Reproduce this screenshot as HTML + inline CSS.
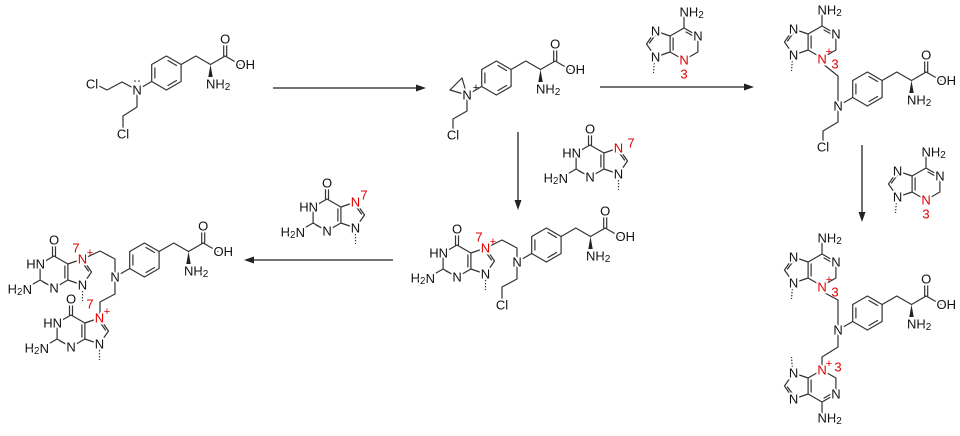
<!DOCTYPE html>
<html><head><meta charset="utf-8"><style>
html,body{margin:0;padding:0;background:#fff;}
svg{display:block}
.b{fill:none;stroke:#333;stroke-width:1.2;stroke-linejoin:round;stroke-linecap:round}
.d{fill:none;stroke:#333;stroke-width:1.2;stroke-dasharray:1.4,1.6}
text{font-family:"Liberation Sans",sans-serif;font-size:13px;fill:#111;dominant-baseline:central;text-anchor:middle;paint-order:stroke;stroke:#fff;stroke-width:4px;stroke-linejoin:round}
text.s{text-anchor:start}
text.e{text-anchor:end}
text.r{fill:#e00000}
text.sm{font-size:11px}
tspan.sub{font-size:10px}
</style></head><body>
<svg width="960" height="436" viewBox="0 0 960 436" xmlns="http://www.w3.org/2000/svg">

<!-- arrows -->
<g stroke="#222" stroke-width="1.3" fill="#222">
<line x1="273" y1="88" x2="418" y2="88"/><polygon points="426,88 416,84.5 416,91.5" stroke="none"/>
<line x1="600" y1="87" x2="746" y2="87"/><polygon points="754,87 744,83.5 744,90.5" stroke="none"/>
<line x1="518" y1="132" x2="518" y2="202"/><polygon points="518,210 514.5,200 521.5,200" stroke="none"/>
<line x1="862" y1="145" x2="862" y2="214"/><polygon points="862,222 858.5,212 865.5,212" stroke="none"/>
<line x1="393" y1="260" x2="252" y2="260"/><polygon points="244,260 254,256.5 254,263.5" stroke="none"/>
</g>

<!-- ============ M1 ============ -->
<path class="b" d="M137,90 L122,82 L107,90 L95,84 M137,90 L137,107 L123,116 L123,128"/>
<g transform="translate(137,90)">
<path class="b" d="M0,0 L14.7,-8.5 M14.7,-8.5 L29.4,0 L44.1,-8.5 L44.1,-25.5 L29.4,-34 L14.7,-25.5 Z M31,-4.5 L39.5,-9.5 M39.5,-24.5 L31,-29.5 M17.9,-22 L17.9,-12 M44.1,-25.5 L58.8,-34 L73.5,-25.5 L88.2,-34 L102.9,-25.5 M86.7,-34 L86.7,-47 M89.7,-34 L89.7,-47"/>
<polygon points="73.5,-25.5 71.3,-13 75.7,-13" fill="#222"/>
<text x="88.2" y="-51">O</text>
<text class="s" x="98.5" y="-25.5">OH</text>
<text class="s" x="69" y="-6">NH<tspan class="sub" dy="3">2</tspan></text>
<text x="0" y="0">N</text>
<circle cx="-2" cy="-9" r="0.8" fill="#222"/><circle cx="2" cy="-9" r="0.8" fill="#222"/>
</g>
<text x="92" y="84">Cl</text>
<text x="123" y="134">Cl</text>

<!-- ============ M2 ============ -->
<path class="b" d="M467,95 L450,90 L462,78 Z M467,95 L467,111 L453,119 L453,130"/>
<g transform="translate(467,95)">
<path class="b" d="M0,0 L14.7,-8.5 M14.7,-8.5 L29.4,0 L44.1,-8.5 L44.1,-25.5 L29.4,-34 L14.7,-25.5 Z M31,-4.5 L39.5,-9.5 M39.5,-24.5 L31,-29.5 M17.9,-22 L17.9,-12 M44.1,-25.5 L58.8,-34 L73.5,-25.5 L88.2,-34 L102.9,-25.5 M86.7,-34 L86.7,-47 M89.7,-34 L89.7,-47"/>
<polygon points="73.5,-25.5 71.3,-13 75.7,-13" fill="#222"/>
<text x="88.2" y="-51">O</text>
<text class="s" x="98.5" y="-25.5">OH</text>
<text class="s" x="69" y="-6">NH<tspan class="sub" dy="3">2</tspan></text>
<text x="0" y="0">N</text>
<text class="sm" x="9" y="-7" style="stroke-width:0">+</text>
</g>
<text x="453" y="135">Cl</text>

<!-- ============ M3 ============ -->
<path class="b" d="M823,64 L838,76 L838,106 M838,106 L838,122 L823,131 L823,142"/>
<g transform="translate(838,106)">
<path class="b" d="M0,0 L14.7,-8.5 M14.7,-8.5 L29.4,0 L44.1,-8.5 L44.1,-25.5 L29.4,-34 L14.7,-25.5 Z M31,-4.5 L39.5,-9.5 M39.5,-24.5 L31,-29.5 M17.9,-22 L17.9,-12 M44.1,-25.5 L58.8,-34 L73.5,-25.5 L88.2,-34 L102.9,-25.5 M86.7,-34 L86.7,-47 M89.7,-34 L89.7,-47"/>
<polygon points="73.5,-25.5 71.3,-13 75.7,-13" fill="#222"/>
<text x="88.2" y="-51">O</text>
<text class="s" x="98.5" y="-25.5">OH</text>
<text class="s" x="69" y="-6">NH<tspan class="sub" dy="3">2</tspan></text>
<text x="0" y="0">N</text>
</g>
<text x="823" y="147">Cl</text>
<g transform="translate(822,42)">
<path class="b" d="M0,-16 L13.9,-8 L13.9,8 L0,16 L-13.9,8 L-13.9,-8 Z M-13.9,-8 L-28.5,-13 L-37.5,0 L-28.5,13 L-13.9,8 M0,-16 L0,-27 M-10.9,-6 L-10.9,6 M2,-12 L11,-7 M-29,-8.5 L-34.5,-1"/>
<path class="d" d="M-29.5,16 L-30.5,29"/>
<text x="13.9" y="-8">N</text><text x="-28.5" y="-13">N</text><text x="-28.5" y="13">N</text>
<text class="s" x="-4.5" y="-32">NH<tspan class="sub" dy="3">2</tspan></text>
<text class="r" x="0" y="17">N</text>
<text class="r sm" x="7" y="10" style="stroke-width:0">+</text>
<text class="r" x="13" y="22" style="stroke-width:0">3</text>
</g>

<!-- ============ reagents ============ -->
<g transform="translate(684,44)">
<path class="b" d="M0,-16 L13.9,-8 L13.9,8 L0,16 L-13.9,8 L-13.9,-8 Z M-13.9,-8 L-28.5,-13 L-37.5,0 L-28.5,13 L-13.9,8 M0,-16 L0,-27 M-10.9,-6 L-10.9,6 M2,-12 L11,-7 M-29,-8.5 L-34.5,-1"/>
<path class="d" d="M-29.5,16 L-30.5,29"/>
<text x="13.9" y="-8">N</text><text x="-28.5" y="-13">N</text><text x="-28.5" y="13">N</text>
<text class="s" x="-4.5" y="-32">NH<tspan class="sub" dy="3">2</tspan></text>
<text class="r" x="0" y="16">N</text>
<text class="r" x="0" y="30">3</text>
</g>
<g transform="translate(926,184)">
<path class="b" d="M0,-16 L13.9,-8 L13.9,8 L0,16 L-13.9,8 L-13.9,-8 Z M-13.9,-8 L-28.5,-13 L-37.5,0 L-28.5,13 L-13.9,8 M0,-16 L0,-27 M-10.9,-6 L-10.9,6 M2,-12 L11,-7 M-29,-8.5 L-34.5,-1"/>
<path class="d" d="M-29.5,16 L-30.5,29"/>
<text x="13.9" y="-8">N</text><text x="-28.5" y="-13">N</text><text x="-28.5" y="13">N</text>
<text class="s" x="-4.5" y="-32">NH<tspan class="sub" dy="3">2</tspan></text>
<text class="r" x="0" y="16">N</text>
<text class="r" x="0" y="30">3</text>
</g>
<g transform="translate(590,161)">
<path class="b" d="M0,-16 L-13.9,-8 L-13.9,8 L0,16 L13.9,8 L13.9,-8 Z M13.9,-8 L28.5,-13 L37.5,0 L28.5,13 L13.9,8 M-13.9,8 L-27.8,16 M-1.5,-16 L-1.5,-28 M1.5,-16 L1.5,-28 M10.9,-6 L10.9,6 M-11,10 L-2.5,14.5 M29,-8.5 L34.5,-1"/>
<path class="d" d="M28.5,16 L28.5,29"/>
<text x="0" y="-32">O</text><text class="e" x="-9" y="-8">HN</text>
<text class="e" x="-22" y="17">H<tspan class="sub" dy="3">2</tspan><tspan dy="-3">N</tspan></text>
<text x="0" y="16">N</text><text x="28.5" y="13">N</text>
<text class="r" x="28.5" y="-13">N</text>
<text class="r" x="41" y="-18" style="stroke-width:0">7</text>
</g>
<g transform="translate(327,215)">
<path class="b" d="M0,-16 L-13.9,-8 L-13.9,8 L0,16 L13.9,8 L13.9,-8 Z M13.9,-8 L28.5,-13 L37.5,0 L28.5,13 L13.9,8 M-13.9,8 L-27.8,16 M-1.5,-16 L-1.5,-28 M1.5,-16 L1.5,-28 M10.9,-6 L10.9,6 M-11,10 L-2.5,14.5 M29,-8.5 L34.5,-1"/>
<path class="d" d="M28.5,16 L28.5,29"/>
<text x="0" y="-32">O</text><text class="e" x="-9" y="-8">HN</text>
<text class="e" x="-22" y="17">H<tspan class="sub" dy="3">2</tspan><tspan dy="-3">N</tspan></text>
<text x="0" y="16">N</text><text x="28.5" y="13">N</text>
<text class="r" x="28.5" y="-13">N</text>
<text class="r" x="37" y="-20" style="stroke-width:0">7</text>
</g>

<!-- ============ M4 ============ -->
<path class="b" d="M486,248 L502,240 L517,248 L517,262 L517,279 L502,287 L502,299"/>
<g transform="translate(517,262)">
<path class="b" d="M0,0 L14.7,-8.5 M14.7,-8.5 L29.4,0 L44.1,-8.5 L44.1,-25.5 L29.4,-34 L14.7,-25.5 Z M31,-4.5 L39.5,-9.5 M39.5,-24.5 L31,-29.5 M17.9,-22 L17.9,-12 M44.1,-25.5 L58.8,-34 L73.5,-25.5 L88.2,-34 L102.9,-25.5 M86.7,-34 L86.7,-47 M89.7,-34 L89.7,-47"/>
<polygon points="73.5,-25.5 71.3,-13 75.7,-13" fill="#222"/>
<text x="88.2" y="-51">O</text>
<text class="s" x="98.5" y="-25.5">OH</text>
<text class="s" x="69" y="-6">NH<tspan class="sub" dy="3">2</tspan></text>
<text x="0" y="0">N</text>
</g>
<text x="502" y="305">Cl</text>
<g transform="translate(457,261)">
<path class="b" d="M0,-16 L-13.9,-8 L-13.9,8 L0,16 L13.9,8 L13.9,-8 Z M13.9,-8 L28.5,-13 L37.5,0 L28.5,13 L13.9,8 M-13.9,8 L-27.8,16 M-1.5,-16 L-1.5,-28 M1.5,-16 L1.5,-28 M10.9,-6 L10.9,6 M-11,10 L-2.5,14.5 M29,-8.5 L34.5,-1"/>
<path class="d" d="M28.5,16 L28.5,29"/>
<text x="0" y="-32">O</text><text class="e" x="-9" y="-8">HN</text>
<text class="e" x="-22" y="17">H<tspan class="sub" dy="3">2</tspan><tspan dy="-3">N</tspan></text>
<text x="0" y="16">N</text><text x="28.5" y="13">N</text>
<text class="r" x="28.5" y="-13">N</text>
<text class="r" x="22" y="-24" style="stroke-width:0">7</text>
<text class="r sm" x="36" y="-19" style="stroke-width:0">+</text>
</g>

<!-- ============ M5 ============ -->
<path class="b" d="M83,259 L100,251 L115,259 L115,277 L115,294 L100,302 L100,317"/>
<g transform="translate(115,277)">
<path class="b" d="M0,0 L14.7,-8.5 M14.7,-8.5 L29.4,0 L44.1,-8.5 L44.1,-25.5 L29.4,-34 L14.7,-25.5 Z M31,-4.5 L39.5,-9.5 M39.5,-24.5 L31,-29.5 M17.9,-22 L17.9,-12 M44.1,-25.5 L58.8,-34 L73.5,-25.5 L88.2,-34 L102.9,-25.5 M86.7,-34 L86.7,-47 M89.7,-34 L89.7,-47"/>
<polygon points="73.5,-25.5 71.3,-13 75.7,-13" fill="#222"/>
<text x="88.2" y="-51">O</text>
<text class="s" x="98.5" y="-25.5">OH</text>
<text class="s" x="69" y="-6">NH<tspan class="sub" dy="3">2</tspan></text>
<text x="0" y="0">N</text>
</g>
<g transform="translate(54,272)">
<path class="b" d="M0,-16 L-13.9,-8 L-13.9,8 L0,16 L13.9,8 L13.9,-8 Z M13.9,-8 L28.5,-13 L37.5,0 L28.5,13 L13.9,8 M-13.9,8 L-27.8,16 M-1.5,-16 L-1.5,-28 M1.5,-16 L1.5,-28 M10.9,-6 L10.9,6 M-11,10 L-2.5,14.5 M29,-8.5 L34.5,-1"/>
<path class="d" d="M28.5,16 L28.5,29"/>
<text x="0" y="-32">O</text><text class="e" x="-9" y="-8">HN</text>
<text class="e" x="-22" y="17">H<tspan class="sub" dy="3">2</tspan><tspan dy="-3">N</tspan></text>
<text x="0" y="16">N</text><text x="28.5" y="13">N</text>
<text class="r" x="28.5" y="-13">N</text>
<text class="r" x="22" y="-24" style="stroke-width:0">7</text>
<text class="r sm" x="36" y="-19" style="stroke-width:0">+</text>
<text class="r" x="36" y="32" style="stroke-width:0">7</text>
</g>
<g transform="translate(71,331)">
<path class="b" d="M0,-16 L-13.9,-8 L-13.9,8 L0,16 L13.9,8 L13.9,-8 Z M13.9,-8 L28.5,-13 L37.5,0 L28.5,13 L13.9,8 M-13.9,8 L-27.8,16 M-1.5,-16 L-1.5,-28 M1.5,-16 L1.5,-28 M10.9,-6 L10.9,6 M-11,10 L-2.5,14.5 M29,-8.5 L34.5,-1"/>
<path class="d" d="M28.5,16 L28.5,29"/>
<text x="0" y="-32">O</text><text class="e" x="-9" y="-8">HN</text>
<text class="e" x="-22" y="17">H<tspan class="sub" dy="3">2</tspan><tspan dy="-3">N</tspan></text>
<text x="0" y="16">N</text><text x="28.5" y="13">N</text>
<text class="r" x="28.5" y="-13">N</text>
<text class="r sm" x="36" y="-19" style="stroke-width:0">+</text>
</g>

<!-- ============ M6 ============ -->
<path class="b" d="M823,292 L838,300 L838,330 L838,347 L822,357 L822,370"/>
<g transform="translate(838,330)">
<path class="b" d="M0,0 L14.7,-8.5 M14.7,-8.5 L29.4,0 L44.1,-8.5 L44.1,-25.5 L29.4,-34 L14.7,-25.5 Z M31,-4.5 L39.5,-9.5 M39.5,-24.5 L31,-29.5 M17.9,-22 L17.9,-12 M44.1,-25.5 L58.8,-34 L73.5,-25.5 L88.2,-34 L102.9,-25.5 M86.7,-34 L86.7,-47 M89.7,-34 L89.7,-47"/>
<polygon points="73.5,-25.5 71.3,-13 75.7,-13" fill="#222"/>
<text x="88.2" y="-51">O</text>
<text class="s" x="98.5" y="-25.5">OH</text>
<text class="s" x="69" y="-6">NH<tspan class="sub" dy="3">2</tspan></text>
<text x="0" y="0">N</text>
</g>
<g transform="translate(822,270)">
<path class="b" d="M0,-16 L13.9,-8 L13.9,8 L0,16 L-13.9,8 L-13.9,-8 Z M-13.9,-8 L-28.5,-13 L-37.5,0 L-28.5,13 L-13.9,8 M0,-16 L0,-27 M-10.9,-6 L-10.9,6 M2,-12 L11,-7 M-29,-8.5 L-34.5,-1"/>
<path class="d" d="M-29.5,16 L-30.5,29"/>
<text x="13.9" y="-8">N</text><text x="-28.5" y="-13">N</text><text x="-28.5" y="13">N</text>
<text class="s" x="-4.5" y="-32">NH<tspan class="sub" dy="3">2</tspan></text>
<text class="r" x="0" y="17">N</text>
<text class="r sm" x="7" y="10" style="stroke-width:0">+</text>
<text class="r" x="13" y="22" style="stroke-width:0">3</text>
</g>
<g transform="translate(822,386)">
<path class="b" d="M0,16 L13.9,8 L13.9,-8 L0,-16 L-13.9,-8 L-13.9,8 Z M-13.9,8 L-28.5,13 L-37.5,0 L-28.5,-13 L-13.9,-8 M0,16 L0,27 M-10.9,6 L-10.9,-6 M2,12 L11,7 M-29,8.5 L-34.5,1"/>
<path class="d" d="M-29.5,-16 L-30.5,-29"/>
<text x="13.9" y="8">N</text><text x="-28.5" y="13">N</text><text x="-28.5" y="-13">N</text>
<text class="s" x="-4.5" y="32">NH<tspan class="sub" dy="3">2</tspan></text>
<text class="r" x="0" y="-16">N</text>
<text class="r sm" x="7" y="-22" style="stroke-width:0">+</text>
<text class="r" x="16" y="-19" style="stroke-width:0">3</text>
</g>

</svg>
</body></html>
